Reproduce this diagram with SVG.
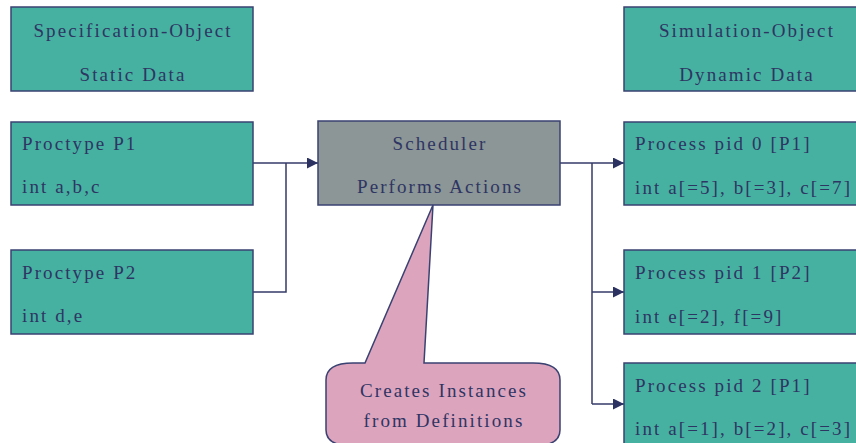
<svg xmlns="http://www.w3.org/2000/svg" width="856" height="443" viewBox="0 0 856 443">
  <defs>
    <style>
      .box { fill: #46B1A1; stroke: #3A4272; stroke-width: 1.5; }
      .sched { fill: #8C9696; stroke: #3A4272; stroke-width: 1.5; }
      .bubble { fill: #DDA4BE; stroke: #3A4272; stroke-width: 1.5; }
      .wire { fill: none; stroke: #343A68; stroke-width: 1.5; }
      text { font-family: "Liberation Serif", "Times New Roman", serif; font-size: 19px; fill: #2E3563; letter-spacing: 2.1px; }
      .c { text-anchor: middle; }
    </style>
    <marker id="arrow" viewBox="0 0 11 11" refX="11" refY="5.5" markerWidth="11" markerHeight="11" markerUnits="userSpaceOnUse" orient="auto">
      <path d="M0,0 L11,5.5 L0,11 Z" fill="#2B3160"/>
    </marker>
  </defs>

  <rect width="856" height="443" fill="#FFFFFF"/>

  <!-- connectors -->
  <g id="connectors">
    <path class="wire" d="M253,163 H318" marker-end="url(#arrow)"/>
    <path class="wire" d="M253,292 H286 V163"/>
    <path class="wire" d="M560,163 H624" marker-end="url(#arrow)"/>
    <path class="wire" d="M592,163 V404"/>
    <path class="wire" d="M592,292 H624" marker-end="url(#arrow)"/>
    <path class="wire" d="M592,404 H624" marker-end="url(#arrow)"/>
  </g>

  <g id="spec-object">
    <rect class="box" x="11" y="7" width="242" height="84"/>
    <text class="c" x="133" y="37">Specification-Object</text>
    <text class="c" x="133" y="81">Static Data</text>
  </g>

  <g id="proctype-p1">
    <rect class="box" x="11" y="122" width="242" height="83"/>
    <text x="22" y="150">Proctype P1</text>
    <text x="22" y="193">int a,b,c</text>
  </g>

  <g id="proctype-p2">
    <rect class="box" x="11" y="250" width="242" height="84"/>
    <text x="22" y="279">Proctype P2</text>
    <text x="22" y="322">int d,e</text>
  </g>

  <g id="scheduler">
    <rect class="sched" x="318" y="121" width="242" height="84"/>
    <text class="c" x="440" y="150">Scheduler</text>
    <text class="c" x="440" y="193">Performs Actions</text>
  </g>

  <!-- speech-bubble callout pointing at the scheduler -->
  <g id="callout">
    <path class="bubble" d="M433,205 L424,363 H533 Q560,363 560,380 V430 Q560,446 533,446 H353 Q326,446 326,430 V380 Q326,363 353,363 H365 Z"/>
    <text class="c" x="444" y="397">Creates Instances</text>
    <text class="c" x="444" y="427">from Definitions</text>
  </g>

  <g id="sim-object">
    <rect class="box" x="624" y="7" width="244" height="84"/>
    <text class="c" x="747" y="37">Simulation-Object</text>
    <text class="c" x="747" y="81">Dynamic Data</text>
  </g>

  <g id="process-pid0">
    <rect class="box" x="624" y="122" width="244" height="83"/>
    <text x="635" y="150">Process pid 0 [P1]</text>
    <text x="635" y="194">int a[=5], b[=3], c[=7]</text>
  </g>

  <g id="process-pid1">
    <rect class="box" x="624" y="250" width="244" height="84"/>
    <text x="635" y="279">Process pid 1 [P2]</text>
    <text x="635" y="323">int e[=2], f[=9]</text>
  </g>

  <g id="process-pid2">
    <rect class="box" x="624" y="363" width="244" height="84"/>
    <text x="635" y="392">Process pid 2 [P1]</text>
    <text x="635" y="435">int a[=1], b[=2], c[=3]</text>
  </g>
</svg>
